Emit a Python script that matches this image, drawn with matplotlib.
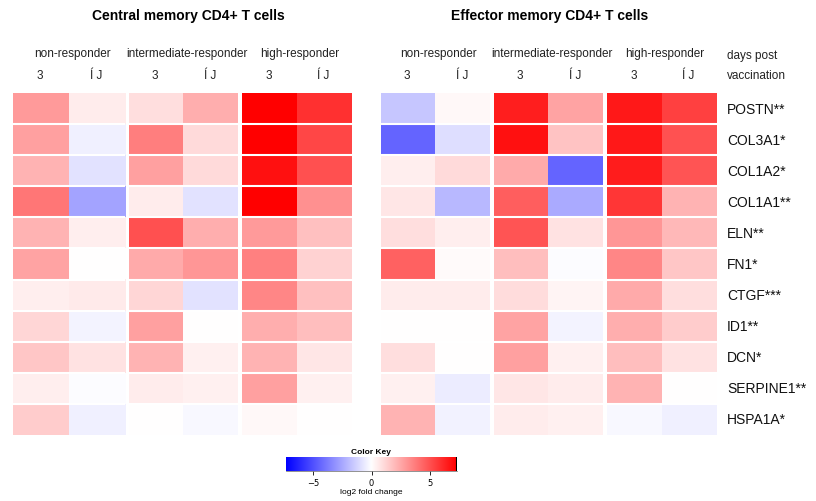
import numpy as np
import matplotlib
matplotlib.use("Agg")
import matplotlib.pyplot as plt
from matplotlib.colors import LinearSegmentedColormap, Normalize

genes = ["POSTN**", "COL3A1*", "COL1A2*", "COL1A1**", "ELN**", "FN1*",
         "CTGF***", "ID1**", "DCN*", "SERPINE1**", "HSPA1A*"]
groups = ["non-responder", "intermediate-responder", "high-responder"]
days = ["3", "Í J"]
panel_titles = ["Central memory CD4+ T cells", "Effector memory CD4+ T cells"]

# columns: non 3, non L, int 3, int L, high 3, high L
central = [
    [2.9, 0.55, 0.95, 2.3, 7.3, 5.9],
    [2.7, -0.45, 3.7, 1.05, 7.3, 5.3],
    [2.15, -0.85, 2.7, 1.05, 6.8, 5.0],
    [3.9, -2.6, 0.55, -0.85, 7.3, 3.15],
    [2.15, 0.5, 5.0, 2.3, 2.9, 1.8],
    [2.6, 0.02, 2.4, 3.0, 3.6, 1.3],
    [0.5, 0.6, 1.15, -0.85, 3.45, 1.8],
    [1.15, -0.3, 2.7, 0.05, 2.3, 1.85],
    [1.6, 0.85, 2.15, 0.45, 2.15, 0.7],
    [0.5, -0.1, 0.55, 0.45, 2.7, 0.45],
    [1.45, -0.4, 0.02, -0.2, 0.2, 0.0],
]
effector = [
    [-1.6, 0.2, 6.4, 2.6, 6.6, 5.45],
    [-4.4, -0.95, 6.8, 1.7, 6.6, 4.95],
    [0.5, 1.05, 2.4, -4.4, 6.45, 4.85],
    [0.7, -2.0, 4.6, -2.45, 5.75, 2.15],
    [0.95, 0.5, 4.85, 0.85, 3.0, 2.0],
    [4.45, 0.15, 1.85, -0.1, 3.45, 1.6],
    [0.55, 0.55, 1.0, 0.3, 2.4, 0.95],
    [0.02, 0.0, 2.6, -0.3, 2.3, 1.45],
    [0.95, 0.02, 2.7, 0.45, 1.85, 0.85],
    [0.45, -0.55, 0.7, 0.55, 2.15, 0.05],
    [2.15, -0.35, 0.55, 0.45, -0.2, -0.4],
]
key_ticks = [-5, 0, 5]
vlim = 7.3

W, H = 816, 502
fig = plt.figure(figsize=(W / 100, H / 100), dpi=100)
cmap = LinearSegmentedColormap.from_list("bwr_key", ["#0000FF", "#FFFFFF", "#FF0000"])
norm = Normalize(-vlim, vlim)


def ax_px(x0, y0, x1, y1):
    return fig.add_axes([x0 / W, 1 - y1 / H, (x1 - x0) / W, (y1 - y0) / H])


def fx(x):
    return x / W


def fy(y):
    return 1 - y / H


top, bottom = 94, 436
panels = [
    (np.array(central), [(13, 125), (129, 238), (242, 352)], 188, panel_titles[0]),
    (np.array(effector), [(381, 490), (494, 603), (607, 717)], 550, panel_titles[1]),
]
n = len(genes)
for data, spans, tcx, title in panels:
    for g, (x0, x1) in enumerate(spans):
        ax = ax_px(x0, top, x1, bottom)
        ax.imshow(data[:, 2 * g:2 * g + 2], cmap=cmap, norm=norm, aspect="auto",
                  interpolation="nearest", extent=(0, 2, n, 0))
        for i in range(1, n):
            ax.axhline(i, color="white", lw=1.5)
        ax.set_axis_off()
        cx = (x0 + x1) / 2
        fig.text(fx(cx + 3), fy(54), groups[g], ha="center", va="center", fontsize=8.5,
                 family="Liberation Sans", color="#222222")
        cw = (x1 - x0) / 2
        for d in range(2):
            fig.text(fx(x0 + cw * (d + 0.5) - 1), fy(76), days[d], ha="center", va="center",
                     fontsize=8.5, family="Liberation Sans", color="#222222")
    fig.text(fx(tcx), fy(16), title, ha="center", va="center", fontsize=10,
             fontweight="bold", family="Liberation Sans")

fig.text(fx(727), fy(56), "days post", ha="left", va="center", fontsize=8.5,
         family="Liberation Sans", color="#222222")
fig.text(fx(727), fy(76), "vaccination", ha="left", va="center", fontsize=8.5,
         family="Liberation Sans", color="#222222")

row_h = (bottom - top) / n
for i, gname in enumerate(genes):
    fig.text(fx(727), fy(top + row_h * (i + 0.5)), gname, ha="left", va="center",
             fontsize=10, family="Liberation Sans", color="#111111")

# colour key
kax = ax_px(286, 458, 457, 472)
grad = np.linspace(-vlim, vlim, 512)[None, :]
kax.imshow(grad, cmap=cmap, norm=norm, aspect="auto", extent=(-vlim, vlim, 0, 1))
kax.axvline(vlim, color="black", lw=1.5)
kax.set_xlim(-vlim, vlim)
kax.set_yticks([])
kax.set_xticks(key_ticks)
kax.set_xticklabels(["\u22125", "0", "5"])
kax.tick_params(axis="x", direction="out", length=3, width=0.6, labelsize=6, pad=2)
for s in ["top", "left", "right"]:
    kax.spines[s].set_visible(False)
kax.spines["bottom"].set_linewidth(0.5)
kax.spines["bottom"].set_color("#666666")
fig.text(fx(371), fy(453), "Color Key", ha="center", va="center", fontsize=6,
         fontweight="bold", family="Liberation Sans")
fig.text(fx(371), fy(493), "log2 fold change", ha="center", va="center", fontsize=6,
         family="Liberation Sans")

fig.savefig("out.png", dpi=100)
